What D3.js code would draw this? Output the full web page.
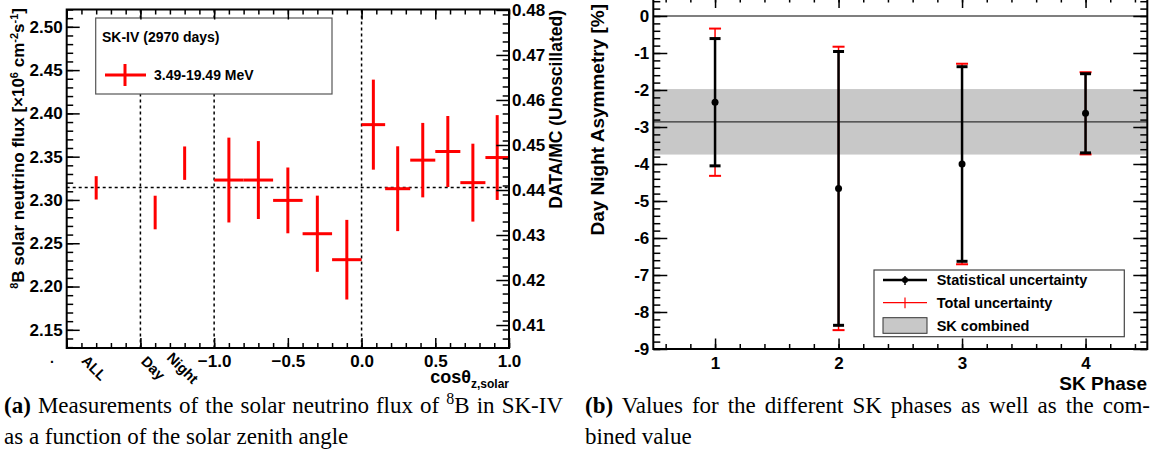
<!DOCTYPE html>
<html>
<head>
<meta charset="utf-8">
<script src="https://cdn.jsdelivr.net/npm/d3@7"></script>
<style>
  body { margin: 0; background: #fff; }
  svg { display: block; }
  text { font-family: "Liberation Sans", Arial, sans-serif; font-weight: bold; fill: #000; }
  .cap { font-family: "Liberation Serif", "Times New Roman", serif; font-weight: normal; font-size: 23px; }
</style>
</head>
<body>
<svg></svg>
<script>
// ---- panel (a): SK-IV flux vs solar zenith angle ----
const catLabels = ["ALL", "Day", "Night"];
const catPos = [-1.8, -1.4, -1.2];
const catFlux = [2.314, 2.2855, 2.3425];
const catErr = [0.0135, 0.0194, 0.0193];

const binLo = [-1.0, -0.8, -0.6, -0.4, -0.2, 0.0, 0.16, 0.33, 0.50, 0.67, 0.84];
const binHi = [-0.8, -0.6, -0.4, -0.2, 0.0, 0.16, 0.33, 0.50, 0.67, 0.84, 1.0];
const binFlux = [2.323, 2.323, 2.2995, 2.261, 2.231, 2.387, 2.313, 2.346, 2.356, 2.320, 2.349];
const binErr = [0.049, 0.045, 0.038, 0.044, 0.046, 0.052, 0.049, 0.043, 0.041, 0.045, 0.049];
const meanFlux = 2.3145;
const fluxTicks = [2.15, 2.20, 2.25, 2.30, 2.35, 2.40, 2.45, 2.50];
const ratioTicks = [0.41, 0.42, 0.43, 0.44, 0.45, 0.46, 0.47, 0.48];
const cosTicks = [-2.0, -1.5, -1.0, -0.5, 0.0, 0.5, 1.0];

// ---- panel (b): day/night asymmetry per SK phase ----
const phases = [1, 2, 3, 4];
const asym = [-2.33, -4.66, -4.00, -2.63];
const statErr = [1.72, 3.70, 2.63, 1.07];
const totErr = [1.99, 3.83, 2.71, 1.11];
const combined = -2.86, combinedErr = 0.885;
const asymTicks = [0, -1, -2, -3, -4, -5, -6, -7, -8, -9];

const width = 1160, height = 468;
const svg = d3.select("svg").attr("width", width).attr("height", height);

// helper: inner-pointing ticks, drawn by d3 axes
function ticks(g, axis, vals, size, fmt, pad) {
    g.call(axis.tickValues(vals).tickSizeInner(-size).tickSizeOuter(0)
        .tickPadding(pad || 4).tickFormat(fmt || (() => "")));
    g.select(".domain").remove();
    g.selectAll("line").attr("stroke", "#000").attr("stroke-width", 1.5);
    g.selectAll("text").style("font-size", "17px").attr("font-family", null);
}

// ===== panel (a) =====
const xL = d3.scaleLinear().domain([-2, 1]).range([66.7, 509]);
const yL = d3.scaleLinear().domain([2.129, 2.52]).range([348, 9.5]);
const yR = d3.scaleLinear().domain([0.4049, 0.4801]).range([348, 9.5]);

const pa = svg.append("g");

// reference lines
pa.append("line")
    .attr("x1", xL(-2)).attr("x2", xL(1))
    .attr("y1", yL(meanFlux)).attr("y2", yL(meanFlux))
    .attr("stroke", "#000").attr("stroke-width", 1.5).attr("stroke-dasharray", "3,3");
pa.selectAll(".sep").data([-1.5, -1.0, 0.0]).enter().append("line")
    .attr("x1", d => xL(d)).attr("x2", d => xL(d))
    .attr("y1", yL.range()[1]).attr("y2", yL.range()[0])
    .attr("stroke", "#000").attr("stroke-width", 1.5).attr("stroke-dasharray", "3,3");

// legend box (covers dotted lines)
pa.append("rect").attr("x", 95.7).attr("y", 18).attr("width", 236.3).attr("height", 76)
    .attr("fill", "#fff").attr("stroke", "#555").attr("stroke-width", 1.2);
pa.append("text").attr("x", 102).attr("y", 42).style("font-size", "14px").text("SK-IV (2970 days)");
pa.append("line").attr("x1", 105).attr("x2", 146).attr("y1", 75).attr("y2", 75)
    .attr("stroke", "#ff0000").attr("stroke-width", 3);
pa.append("line").attr("x1", 125).attr("x2", 125).attr("y1", 64).attr("y2", 86)
    .attr("stroke", "#ff0000").attr("stroke-width", 3);
pa.append("text").attr("x", 154).attr("y", 80).style("font-size", "14px").text("3.49-19.49 MeV");

// ALL / Day / Night points
catPos.forEach((p, i) => {
    pa.append("line")
        .attr("x1", xL(p)).attr("x2", xL(p))
        .attr("y1", yL(catFlux[i] + catErr[i])).attr("y2", yL(catFlux[i] - catErr[i]))
        .attr("stroke", "#ff0000").attr("stroke-width", 3);
});

// zenith angle bins
binLo.forEach((lo, i) => {
    const mid = (lo + binHi[i]) / 2;
    pa.append("line")
        .attr("x1", xL(lo)).attr("x2", xL(binHi[i]))
        .attr("y1", yL(binFlux[i])).attr("y2", yL(binFlux[i]))
        .attr("stroke", "#ff0000").attr("stroke-width", 3);
    pa.append("line")
        .attr("x1", xL(mid)).attr("x2", xL(mid))
        .attr("y1", yL(binFlux[i] + binErr[i])).attr("y2", yL(binFlux[i] - binErr[i]))
        .attr("stroke", "#ff0000").attr("stroke-width", 3);
});

// axes of panel (a)
ticks(pa.append("g").attr("transform", `translate(${xL(-2)},0)`),
    d3.axisLeft(yL), d3.range(213, 253).map(d => d / 100), 6.5);
ticks(pa.append("g").attr("transform", `translate(${xL(-2)},0)`),
    d3.axisLeft(yL), fluxTicks, 13, d3.format(".2f"), 4);
ticks(pa.append("g").attr("transform", `translate(${xL(1)},0)`),
    d3.axisRight(yR), d3.range(405, 481, 2).map(d => d / 1000), 6.3);
ticks(pa.append("g").attr("transform", `translate(${xL(1)},0)`),
    d3.axisRight(yR), ratioTicks, 12.7, d3.format(".2f"), 3);
ticks(pa.append("g").attr("transform", `translate(0,${yL.range()[0]})`),
    d3.axisBottom(xL), d3.range(-20, 11).map(d => d / 10), 5);
ticks(pa.append("g").attr("transform", `translate(0,${yL.range()[0]})`),
    d3.axisBottom(xL), cosTicks, 10, d => d >= -1 ? d3.format(".1f")(d) : "", 7);
ticks(pa.append("g").attr("transform", `translate(0,${yL.range()[1]})`),
    d3.axisTop(xL), d3.range(-20, 11).map(d => d / 10), 5);
ticks(pa.append("g").attr("transform", `translate(0,${yL.range()[1]})`),
    d3.axisTop(xL), cosTicks, 10);

pa.append("rect")
    .attr("x", xL(-2)).attr("y", yL.range()[1])
    .attr("width", xL(1) - xL(-2)).attr("height", yL.range()[0] - yL.range()[1])
    .attr("fill", "none").attr("stroke", "#000").attr("stroke-width", 2);

// category labels, rotated
catLabels.forEach((c, i) => {
    pa.append("text")
        .attr("transform", `translate(${xL(catPos[i]) - 2},${368}) rotate(45)`)
        .attr("text-anchor", "middle").attr("dy", "0.35em")
        .style("font-size", "14.5px").text(c);
});
pa.append("text").attr("x", 50).attr("y", 363).style("font-size", "14px").text(".");

// axis titles (a)
const tx = pa.append("text").attr("x", 509).attr("y", 383).attr("text-anchor", "end")
    .style("font-size", "18px");
tx.append("tspan").text("cosθ");
tx.append("tspan").attr("dy", 5).style("font-size", "12px").text("z,solar");

const tyL = pa.append("text").attr("transform", "translate(24,8) rotate(-90)")
    .attr("text-anchor", "end").style("font-size", "17px");
tyL.append("tspan").attr("dy", -6).style("font-size", "11px").text("8");
tyL.append("tspan").attr("dy", 6).text("B solar neutrino flux [×10");
tyL.append("tspan").attr("dy", -6).style("font-size", "11px").text("6");
tyL.append("tspan").attr("dy", 6).text(" cm");
tyL.append("tspan").attr("dy", -6).style("font-size", "11px").text("-2");
tyL.append("tspan").attr("dy", 6).text("s");
tyL.append("tspan").attr("dy", -6).style("font-size", "11px").text("-1");
tyL.append("tspan").attr("dy", 6).text("]");

pa.append("text").attr("transform", "translate(562,10) rotate(-90)")
    .attr("text-anchor", "end").style("font-size", "17.5px").text("DATA/MC (Unoscillated)");

// ===== panel (b) =====
const xB = d3.scaleLinear().domain([0.5, 4.5]).range([653.3, 1147.3]);
const yB = d3.scaleLinear().domain([-9, 0.5]).range([349, 349 - 9.5 * 37]);

const pb = svg.append("g");

pb.append("rect")
    .attr("x", xB(0.5)).attr("width", xB(4.5) - xB(0.5))
    .attr("y", yB(combined + combinedErr)).attr("height", yB(combined - combinedErr) - yB(combined + combinedErr))
    .attr("fill", "#c8c8c8");
pb.append("line").attr("x1", xB(0.5)).attr("x2", xB(4.5))
    .attr("y1", yB(combined)).attr("y2", yB(combined))
    .attr("stroke", "#333").attr("stroke-width", 1.2);
pb.append("line").attr("x1", xB(0.5)).attr("x2", xB(4.5))
    .attr("y1", yB(0)).attr("y2", yB(0))
    .attr("stroke", "#000").attr("stroke-width", 1.2);

phases.forEach((p, i) => {
    const x = xB(p);
    // total uncertainty (red)
    pb.append("line").attr("x1", x).attr("x2", x)
        .attr("y1", yB(asym[i] + totErr[i])).attr("y2", yB(asym[i] - totErr[i]))
        .attr("stroke", "#ff0000").attr("stroke-width", 1.5);
    [asym[i] + totErr[i], asym[i] - totErr[i]].forEach(v => {
        pb.append("line").attr("x1", x - 6).attr("x2", x + 6)
            .attr("y1", yB(v)).attr("y2", yB(v))
            .attr("stroke", "#ff0000").attr("stroke-width", 2);
    });
    // statistical uncertainty (black)
    pb.append("line").attr("x1", x).attr("x2", x)
        .attr("y1", yB(asym[i] + statErr[i])).attr("y2", yB(asym[i] - statErr[i]))
        .attr("stroke", "#000").attr("stroke-width", 2.5);
    [asym[i] + statErr[i], asym[i] - statErr[i]].forEach(v => {
        pb.append("line").attr("x1", x - 5.5).attr("x2", x + 5.5)
            .attr("y1", yB(v)).attr("y2", yB(v))
            .attr("stroke", "#000").attr("stroke-width", 3);
    });
    pb.append("circle").attr("cx", x).attr("cy", yB(asym[i])).attr("r", 3.5).attr("fill", "#000");
});

// legend (b)
pb.append("rect").attr("x", 874).attr("y", 270).attr("width", 250.3).attr("height", 66.7)
    .attr("fill", "#fff").attr("stroke", "#444").attr("stroke-width", 1.2);
pb.append("line").attr("x1", 883).attr("x2", 927).attr("y1", 280).attr("y2", 280)
    .attr("stroke", "#000").attr("stroke-width", 2.5);
pb.append("line").attr("x1", 905).attr("x2", 905).attr("y1", 276).attr("y2", 285)
    .attr("stroke", "#000").attr("stroke-width", 1.5);
pb.append("circle").attr("cx", 905).attr("cy", 280).attr("r", 3).attr("fill", "#000");
pb.append("line").attr("x1", 883).attr("x2", 927).attr("y1", 302.7).attr("y2", 302.7)
    .attr("stroke", "#ff0000").attr("stroke-width", 1.2);
pb.append("line").attr("x1", 905).attr("x2", 905).attr("y1", 297.5).attr("y2", 308.3)
    .attr("stroke", "#ff0000").attr("stroke-width", 1.2);
pb.append("rect").attr("x", 883).attr("y", 317.7).attr("width", 44).attr("height", 15.6)
    .attr("fill", "#c8c8c8").attr("stroke", "#333").attr("stroke-width", 1);
[["Statistical uncertainty", 280], ["Total uncertainty", 302.7], ["SK combined", 326]].forEach(([t, y]) => {
    pb.append("text").attr("x", 936.7).attr("y", y).attr("dy", "0.35em")
        .style("font-size", "14.5px").text(t);
});

// axes of panel (b)
ticks(pb.append("g").attr("transform", `translate(${xB(0.5)},0)`),
    d3.axisLeft(yB), d3.range(-45, 3).map(d => d / 5), 7);
ticks(pb.append("g").attr("transform", `translate(${xB(0.5)},0)`),
    d3.axisLeft(yB), asymTicks, 14, d => String(d), 4);
ticks(pb.append("g").attr("transform", `translate(${xB(4.5)},0)`),
    d3.axisRight(yB), d3.range(-45, 3).map(d => d / 5), 7);
ticks(pb.append("g").attr("transform", `translate(${xB(4.5)},0)`),
    d3.axisRight(yB), asymTicks, 14);
ticks(pb.append("g").attr("transform", `translate(0,${yB(-9)})`),
    d3.axisBottom(xB), d3.range(3, 23).map(d => d / 5), 5);
ticks(pb.append("g").attr("transform", `translate(0,${yB(-9)})`),
    d3.axisBottom(xB), phases, 10.5, d => String(d), 7.5);
ticks(pb.append("g").attr("transform", `translate(0,${yB(0.5)})`),
    d3.axisTop(xB), d3.range(3, 23).map(d => d / 5), 5);
ticks(pb.append("g").attr("transform", `translate(0,${yB(0.5)})`),
    d3.axisTop(xB), phases, 10.5);

pb.append("rect")
    .attr("x", xB(0.5)).attr("y", yB(0.5))
    .attr("width", xB(4.5) - xB(0.5)).attr("height", yB(-9) - yB(0.5))
    .attr("fill", "none").attr("stroke", "#000").attr("stroke-width", 2);

pb.append("text").attr("x", 1147).attr("y", 390).attr("text-anchor", "end")
    .style("font-size", "19px").text("SK Phase");
pb.append("text").attr("transform", "translate(604,4) rotate(-90)")
    .attr("text-anchor", "end").style("font-size", "19px").text("Day Night Asymmetry [%]");

// ===== captions (first line justified to the column width) =====
function caption(x, y, right, lines) {
    lines.forEach((parts, li) => {
        const t = svg.append("text").attr("class", "cap").attr("x", x).attr("y", y + li * 31);
        parts.forEach(p => {
            const s = t.append("tspan").text(p.t);
            if (p.b) s.style("font-weight", "bold");
            if (p.sup) s.attr("dy", -9).style("font-size", "16px");
            if (p.down) s.attr("dy", 9);
        });
        if (li === 0) {
            const gaps = parts.map(p => p.t).join("").split(" ").length - 1;
            const extra = (right - x) - t.node().getComputedTextLength();
            if (extra > 0 && gaps > 0) t.style("word-spacing", (extra / gaps) + "px");
        }
    });
}
caption(4, 413, 563, [
    [{t: "(a)", b: true}, {t: " Measurements of the solar neutrino flux of "}, {t: "8", sup: true},
     {t: "B in SK-IV", down: true}],
    [{t: "as a function of the solar zenith angle"}]
]);
caption(585, 413, 1150, [
    [{t: "(b)", b: true}, {t: " Values for the different SK phases as well as the com-"}],
    [{t: "bined value"}]
]);
</script>
</body>
</html>
